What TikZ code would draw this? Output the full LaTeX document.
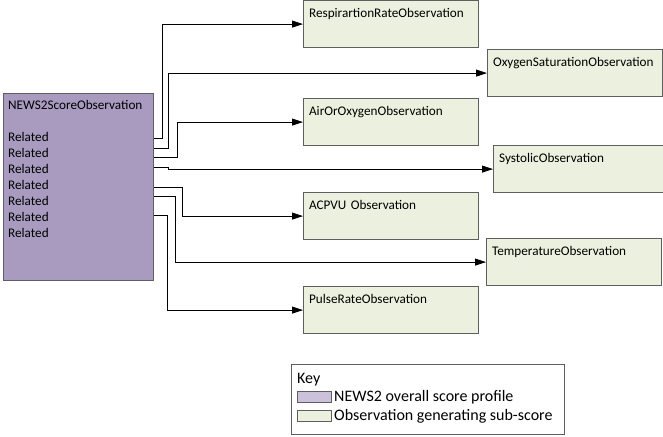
\documentclass[tikz,border=0pt]{standalone}
\usepackage{fontspec}
\setmainfont{Carlito}
\usetikzlibrary{arrows.meta,positioning}
\definecolor{scorepurple}{RGB}{169,155,191}
\definecolor{keypurple}{RGB}{204,193,218}
\definecolor{obsgreen}{RGB}{235,241,222}
\definecolor{edgegray}{RGB}{95,95,95}

\begin{document}
\begin{tikzpicture}[x=1pt,y=-1pt, font=\fontsize{13.2}{16}\selectfont,
  obs/.style={draw=edgegray, fill=obsgreen, line width=1.2pt, anchor=north west,
    minimum width=175, text width=164, align=left, inner xsep=5.5pt, inner ysep=8pt,
    text height=9pt, text depth=22pt},
  link/.style={-{Triangle[length=11pt,width=7pt]}, line width=0.8pt},
  swatch/.style={draw=edgegray, line width=1pt, anchor=north west, minimum width=34, minimum height=11, inner sep=0}]
\useasboundingbox (0,0) rectangle (663,436);
% score profile
\node[draw=edgegray, fill=scorepurple, line width=1.2pt, anchor=north west,
  minimum width=150, minimum height=187, inner sep=0] (score) at (3,93) {};
\node[anchor=north west, align=left, inner sep=0] (scoretext) at ([shift={(5pt,-7pt)}]score.north west)
  {NEWS2ScoreObservation\\[16pt]Related\\Related\\Related\\Related\\Related\\Related\\Related};
% observations
\node[obs] (resp) at (303,0) {RespirartionRateObservation};
\node[obs] (oxsat) at (487,49) {OxygenSaturationObservation};
\node[obs] (airox) at (303,98) {AirOrOxygenObservation};
\node[obs, minimum width=170, text width=159] (sys) at (493,145) {SystolicObservation};
\node[obs] (acpvu) at (303,192) {ACPVU Observation};
\node[obs] (temp) at (486,238) {TemperatureObservation};
\node[obs] (pulse) at (303,286) {PulseRateObservation};
% related links
\foreach \s/\b/\t in {45/8/resp,55/14/oxsat,64/23/airox,74/14/sys,94/28/acpvu,103/21/temp,122/13/pulse}
  \draw[link] ([yshift=-\s pt]score.north east) -| ([xshift=\b pt]score.east |- \t.west) -- (\t.west);
% key
\node[draw=edgegray, line width=1.2pt, anchor=north west, minimum width=273, minimum height=70, inner sep=0] (key) at (291,364) {};
\begin{scope}[font=\fontsize{16}{19}\selectfont]
\node[anchor=base west, inner sep=0] (keytitle) at (297,383) {Key};
\node[swatch, fill=keypurple] (swscore) at (297,391) {};
\node[swatch, fill=obsgreen] (swobs) at (297,410) {};
\node[right=2pt of swscore, inner sep=0] (keyscore) {NEWS2 overall score profile};
\node[right=2pt of swobs, inner sep=0] (keyobs) {Observation generating sub-score};
\end{scope}
\end{tikzpicture}
\end{document}
